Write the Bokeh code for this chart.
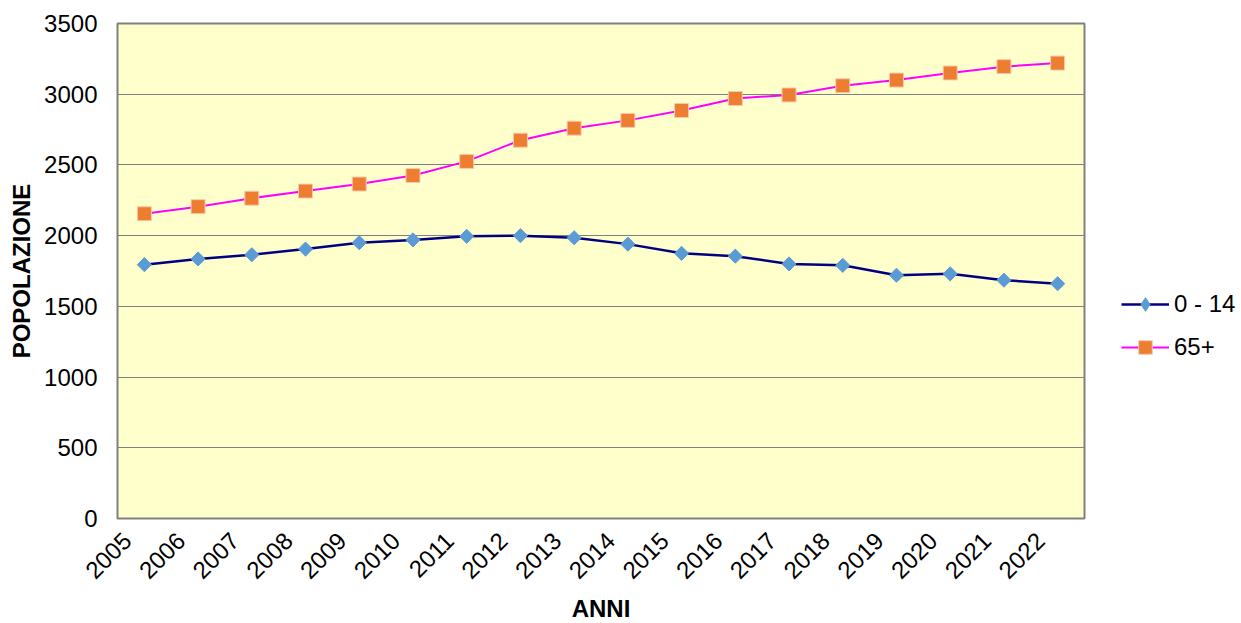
import numpy as np
from bokeh.plotting import figure
from bokeh.layouts import row
from bokeh.models import (Range1d, Legend, LegendItem, ColumnDataSource,
                          FixedTicker)
from bokeh.embed import file_html
from bokeh.resources import INLINE

years = [str(y) for y in range(2005, 2023)]
age_0_14 = [1795, 1835, 1865, 1905, 1950, 1970, 1995, 2000, 1985,
            1940, 1875, 1855, 1800, 1790, 1720, 1730, 1685, 1660]
age_65_plus = [2155, 2205, 2265, 2315, 2365, 2425, 2525, 2675, 2760,
               2815, 2885, 2970, 2995, 3060, 3100, 3150, 3195, 3220]
y_ticks = [0, 500, 1000, 1500, 2000, 2500, 3000, 3500]
series_labels = ["0 - 14", "65+"]

FONT = "Liberation Sans"
FS = "24px"

NAVY, BLUE = "#000080", "#5B9BD5"
MAGENTA, ORANGE, ORANGE_EDGE = "#FF00FF", "#ED7D31", "#F8CBAD"

# category axis in units of 1/100 of a category slot
SLOT = 100
n = len(years)
x_centre = [i * SLOT + SLOT // 2 for i in range(n)]
label_shift = 32  # rotated labels sit a little left of the slot centre
tick_pos = [c - label_shift for c in x_centre]

p = figure(frame_width=967, frame_height=495,
           x_range=Range1d(0, n * SLOT), y_range=Range1d(0, 3500),
           output_backend="svg", toolbar_location=None,
           min_border_left=117, min_border_right=2, min_border_top=23, min_border_bottom=90)

p.background_fill_color = "#FFFFCC"
p.border_fill_color = "white"
p.outline_line_color = "#808080"
p.outline_line_width = 2

p.xgrid.grid_line_color = None
p.ygrid.grid_line_color = "#808080"
p.ygrid.grid_line_width = 1

p.yaxis.ticker = y_ticks
p.yaxis.axis_line_color = None
p.yaxis.major_tick_line_color = None
p.yaxis.minor_tick_line_color = None
p.yaxis.major_tick_out = 0
p.yaxis.major_label_standoff = 20
p.yaxis.major_label_text_font = FONT
p.yaxis.major_label_text_font_size = FS
p.yaxis.major_label_text_color = "black"
p.yaxis.axis_label = "POPOLAZIONE"
p.yaxis.axis_label_text_font = FONT
p.yaxis.axis_label_text_font_size = FS
p.yaxis.axis_label_text_font_style = "bold"
p.yaxis.axis_label_text_color = "black"
p.yaxis.axis_label_standoff = 6

xaxis = p.xaxis[0]
xaxis.ticker = FixedTicker(ticks=tick_pos)
xaxis.major_label_overrides = {t: y for t, y in zip(tick_pos, years)}
xaxis.axis_line_color = None
xaxis.major_tick_line_color = None
xaxis.minor_tick_line_color = None
xaxis.major_tick_out = 0
xaxis.major_label_standoff = 18
xaxis.major_label_orientation = np.pi / 4
xaxis.major_label_text_font = FONT
xaxis.major_label_text_font_size = FS
xaxis.major_label_text_color = "black"
xaxis.axis_label = "ANNI"
xaxis.axis_label_text_font = FONT
xaxis.axis_label_text_font_size = FS
xaxis.axis_label_text_font_style = "bold"
xaxis.axis_label_text_color = "black"
xaxis.axis_label_standoff = 6

src = ColumnDataSource(dict(x=x_centre, year=years, a=age_0_14, b=age_65_plus))

p.line("x", "a", source=src, line_color=NAVY, line_width=2.5)
p.scatter("x", "a", source=src, marker="square", angle=np.pi / 4, size=10,
          fill_color=BLUE, line_color=BLUE)
p.line("x", "b", source=src, line_color=MAGENTA, line_width=2)
p.scatter("x", "b", source=src, marker="square", size=14,
          fill_color=ORANGE, line_color=ORANGE_EDGE, line_width=1)

# legend panel: a separate figure to the right of the plot area (its frame is
# aligned with the plot frame); its series renderers lie outside its view window
lg = figure(frame_width=120, frame_height=495,
            x_range=Range1d(0, n * SLOT), y_range=Range1d(-2, -1),
            output_backend="svg", toolbar_location=None,
            min_border_left=35, min_border_top=23, min_border_right=0, min_border_bottom=0)
lg.axis.visible = False
lg.grid.visible = False
lg.outline_line_color = None
lg.background_fill_color = "white"
lg.border_fill_color = "white"

ll1 = lg.line("x", "a", source=src, line_color=NAVY, line_width=2.5)
lm1 = lg.scatter("x", "a", source=src, marker="diamond", size=10,
                 fill_color=BLUE, line_color=BLUE)
ll2 = lg.line("x", "b", source=src, line_color=MAGENTA, line_width=2)
lm2 = lg.scatter("x", "b", source=src, marker="square", size=14,
                 fill_color=ORANGE, line_color=ORANGE_EDGE, line_width=1)

legend = Legend(items=[LegendItem(label=series_labels[0], renderers=[ll1, lm1]),
                       LegendItem(label=series_labels[1], renderers=[ll2, lm2])],
                location=(0, 154), orientation="vertical",
                border_line_color=None, background_fill_alpha=0,
                padding=0, margin=0, spacing=9,
                glyph_width=48, glyph_height=34, label_height=34,
                label_standoff=5,
                label_text_font=FONT, label_text_font_size=FS, label_text_color="black")
lg.add_layout(legend, "center")

layout = row(p, lg)
open("out.html", "w").write(file_html(layout, INLINE))
